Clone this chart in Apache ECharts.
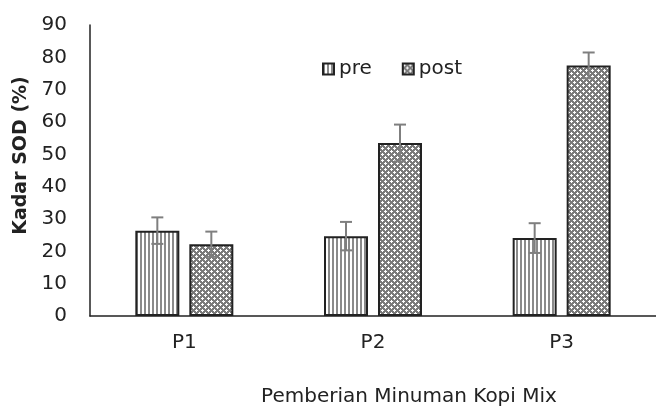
<!DOCTYPE html>
<html>
<head>
<meta charset="utf-8">
<script src="https://cdn.jsdelivr.net/npm/echarts@6/dist/echarts.min.js"></script>
<style>html,body{margin:0;padding:0;background:#fff}#c{width:656px;height:407px}</style>
</head>
<body>
<div id="c"></div>
<script>
const categories = ['P1', 'P2', 'P3'];
const preValues = [26.4, 24.7, 24.1];
const postValues = [22.2, 53.5, 77.5];
const preErrors = [4.1, 4.4, 4.6];
const postErrors = [3.9, 5.7, 4.0];
const yTicks = [0, 10, 20, 30, 40, 50, 60, 70, 80, 90];

function stripeTile() {
  const c = document.createElement('canvas');
  c.width = 4; c.height = 4;
  const g = c.getContext('2d');
  g.fillStyle = '#ffffff'; g.fillRect(0, 0, 4, 4);
  g.fillStyle = '#8a8a8a'; g.fillRect(0, 0, 2, 4);
  return c;
}
function checkTile() {
  const c = document.createElement('canvas');
  c.width = 6; c.height = 6;
  const g = c.getContext('2d');
  g.fillStyle = '#7a7a7a'; g.fillRect(0, 0, 6, 6);
  g.fillStyle = '#ffffff';
  g.fillRect(1, 1, 1, 1); g.fillRect(4, 4, 1, 1);
  g.fillRect(0, 1, 1, 1); g.fillRect(2, 1, 1, 1); g.fillRect(1, 0, 1, 1); g.fillRect(1, 2, 1, 1);
  g.fillRect(3, 4, 1, 1); g.fillRect(5, 4, 1, 1); g.fillRect(4, 3, 1, 1); g.fillRect(4, 5, 1, 1);
  return c;
}

const FONT = 'DejaVu Sans';
const FS = 20;
const BAR_W = 44, GAP = 10;
const chart = echarts.init(document.getElementById('c'), null, {renderer: 'canvas'});

function errSeries(vals, errs, side) {
  return {
    type: 'custom',
    z: 5,
    silent: true,
    data: vals.map((v, i) => [i, v - errs[i], v + errs[i]]),
    renderItem: function (params, api) {
      const x = api.value(0);
      const lo = api.coord([x, api.value(1)]);
      const hi = api.coord([x, api.value(2)]);
      const cx = lo[0] + side * (BAR_W + GAP) / 2;
      const hw = 6;
      const st = {stroke: '#7f7f7f', lineWidth: 2};
      return {
        type: 'group',
        children: [
          {type: 'line', shape: {x1: cx, y1: hi[1], x2: cx, y2: lo[1]}, style: st},
          {type: 'line', shape: {x1: cx - hw, y1: hi[1], x2: cx + hw, y2: hi[1]}, style: st},
          {type: 'line', shape: {x1: cx - hw, y1: lo[1], x2: cx + hw, y2: lo[1]}, style: st}
        ]
      };
    }
  };
}

chart.setOption({
  animation: false,
  backgroundColor: '#fff',
  textStyle: {fontFamily: FONT},
  grid: {left: 90, right: 0, top: 25, bottom: 91, containLabel: false, outerBoundsMode: 'none'},
  legend: {
    left: 317, top: 54,
    icon: 'rect',
    itemWidth: 11, itemHeight: 11, itemGap: 30,
    textStyle: {fontFamily: FONT, fontSize: FS, color: '#222'},
    data: ['pre', 'post']
  },
  xAxis: {
    type: 'category',
    data: categories,
    axisLine: {lineStyle: {color: '#222', width: 1.5}},
    axisTick: {show: false},
    axisLabel: {fontFamily: FONT, fontSize: FS, color: '#222', margin: 17},
    name: 'Pemberian Minuman Kopi Mix',
    nameLocation: 'middle',
    nameGap: 71,
    nameTextStyle: {fontFamily: FONT, fontSize: FS, color: '#222', padding: [0, 0, 0, 72]}
  },
  yAxis: {
    type: 'value',
    min: 0, max: 90, interval: 10,
    axisLine: {show: true, lineStyle: {color: '#222', width: 1.5}},
    axisTick: {show: false},
    splitLine: {show: false},
    axisLabel: {fontFamily: FONT, fontSize: FS, color: '#222', margin: 23,
      formatter: v => yTicks.includes(v) ? String(v) : ''},
    name: 'Kadar SOD (%)',
    nameLocation: 'middle',
    nameGap: 55,
    nameTextStyle: {fontFamily: FONT, fontSize: 19, fontWeight: 'bold', color: '#222', padding: [0, 0, 0, 30]}
  },
  series: [
    {
      name: 'pre', type: 'bar', data: preValues,
      barWidth: BAR_W, barGap: (GAP / BAR_W * 100) + '%',
      itemStyle: {color: {image: stripeTile(), repeat: 'repeat'}, borderColor: '#222', borderWidth: 2}
    },
    {
      name: 'post', type: 'bar', data: postValues,
      barWidth: BAR_W,
      itemStyle: {color: {image: checkTile(), repeat: 'repeat'}, borderColor: '#222', borderWidth: 2}
    },
    errSeries(preValues, preErrors, -1),
    errSeries(postValues, postErrors, 1)
  ]
});
</script>
</body>
</html>
